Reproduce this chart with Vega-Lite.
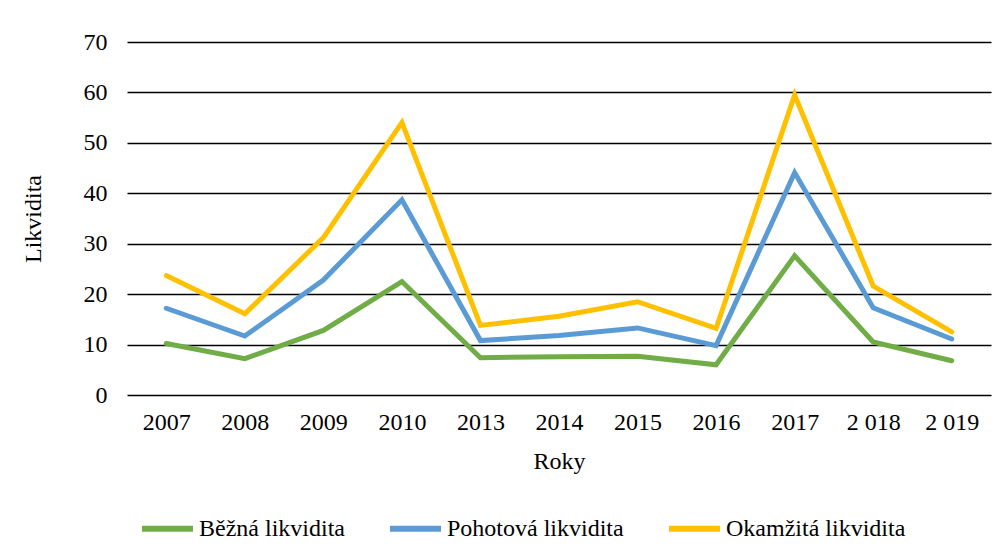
{
  "$schema": "https://vega.github.io/schema/vega-lite/v6.json",
  "width": 864,
  "height": 353,
  "autosize": {"type": "none"},
  "padding": {"left": 127, "top": 42, "right": 16, "bottom": 165},
  "background": "white",
  "data": {
    "values": [
      {"rok": "2007", "ukazatel": "Běžná likvidita", "hodnota": 10.2},
      {"rok": "2008", "ukazatel": "Běžná likvidita", "hodnota": 7.2},
      {"rok": "2009", "ukazatel": "Běžná likvidita", "hodnota": 12.8},
      {"rok": "2010", "ukazatel": "Běžná likvidita", "hodnota": 22.5},
      {"rok": "2013", "ukazatel": "Běžná likvidita", "hodnota": 7.4},
      {"rok": "2014", "ukazatel": "Běžná likvidita", "hodnota": 7.6},
      {"rok": "2015", "ukazatel": "Běžná likvidita", "hodnota": 7.7},
      {"rok": "2016", "ukazatel": "Běžná likvidita", "hodnota": 6.0},
      {"rok": "2017", "ukazatel": "Běžná likvidita", "hodnota": 27.6},
      {"rok": "2 018", "ukazatel": "Běžná likvidita", "hodnota": 10.5},
      {"rok": "2 019", "ukazatel": "Běžná likvidita", "hodnota": 6.8},
      {"rok": "2007", "ukazatel": "Pohotová likvidita", "hodnota": 17.2},
      {"rok": "2008", "ukazatel": "Pohotová likvidita", "hodnota": 11.7},
      {"rok": "2009", "ukazatel": "Pohotová likvidita", "hodnota": 22.8},
      {"rok": "2010", "ukazatel": "Pohotová likvidita", "hodnota": 38.7},
      {"rok": "2013", "ukazatel": "Pohotová likvidita", "hodnota": 10.8},
      {"rok": "2014", "ukazatel": "Pohotová likvidita", "hodnota": 11.8},
      {"rok": "2015", "ukazatel": "Pohotová likvidita", "hodnota": 13.3},
      {"rok": "2016", "ukazatel": "Pohotová likvidita", "hodnota": 9.8},
      {"rok": "2017", "ukazatel": "Pohotová likvidita", "hodnota": 44.1},
      {"rok": "2 018", "ukazatel": "Pohotová likvidita", "hodnota": 17.3},
      {"rok": "2 019", "ukazatel": "Pohotová likvidita", "hodnota": 11.1},
      {"rok": "2007", "ukazatel": "Okamžitá likvidita", "hodnota": 23.7},
      {"rok": "2008", "ukazatel": "Okamžitá likvidita", "hodnota": 16.1},
      {"rok": "2009", "ukazatel": "Okamžitá likvidita", "hodnota": 31.2},
      {"rok": "2010", "ukazatel": "Okamžitá likvidita", "hodnota": 54.0},
      {"rok": "2013", "ukazatel": "Okamžitá likvidita", "hodnota": 13.8},
      {"rok": "2014", "ukazatel": "Okamžitá likvidita", "hodnota": 15.6},
      {"rok": "2015", "ukazatel": "Okamžitá likvidita", "hodnota": 18.5},
      {"rok": "2016", "ukazatel": "Okamžitá likvidita", "hodnota": 13.2},
      {"rok": "2017", "ukazatel": "Okamžitá likvidita", "hodnota": 59.5},
      {"rok": "2 018", "ukazatel": "Okamžitá likvidita", "hodnota": 21.6},
      {"rok": "2 019", "ukazatel": "Okamžitá likvidita", "hodnota": 12.5}
    ]
  },
  "mark": {"type": "line", "strokeWidth": 5, "strokeCap": "round", "strokeJoin": "miter"},
  "encoding": {
    "x": {
      "field": "rok",
      "type": "ordinal",
      "sort": null,
      "title": "Roky",
      "axis": {"labelAngle": 0, "domain": false, "ticks": false, "grid": false, "labelPadding": 15, "titlePadding": 15}
    },
    "y": {
      "field": "hodnota",
      "type": "quantitative",
      "title": "Likvidita",
      "scale": {"domain": [0, 70]},
      "axis": {"values": [0, 10, 20, 30, 40, 50, 60, 70], "domain": false, "ticks": false, "grid": true, "labelPadding": 20, "titlePadding": 38}
    },
    "color": {
      "field": "ukazatel",
      "type": "nominal",
      "sort": ["Běžná likvidita", "Pohotová likvidita", "Okamžitá likvidita"],
      "scale": {"domain": ["Běžná likvidita", "Pohotová likvidita", "Okamžitá likvidita"], "range": ["#70AD47", "#5B9BD5", "#FFC000"]},
      "legend": {
        "title": null,
        "orient": "none",
        "direction": "horizontal",
        "legendX": 12,
        "legendY": 458,
        "symbolType": "stroke",
        "symbolSize": 2600,
        "symbolStrokeWidth": 6,
        "labelOffset": 3,
        "columnPadding": 33
      }
    }
  },
  "config": {
    "view": {"stroke": null},
    "font": "Liberation Serif",
    "axis": {
      "labelFont": "Liberation Serif",
      "titleFont": "Liberation Serif",
      "labelFontSize": 24,
      "titleFontSize": 24,
      "titleFontWeight": "normal",
      "labelColor": "#000000",
      "titleColor": "#000000",
      "gridColor": "#000000",
      "gridWidth": 1.5,
      "gridOpacity": 1
    },
    "legend": {
      "labelFont": "Liberation Serif",
      "labelFontSize": 24,
      "labelColor": "#000000",
      "labelLimit": 400
    }
  }
}
